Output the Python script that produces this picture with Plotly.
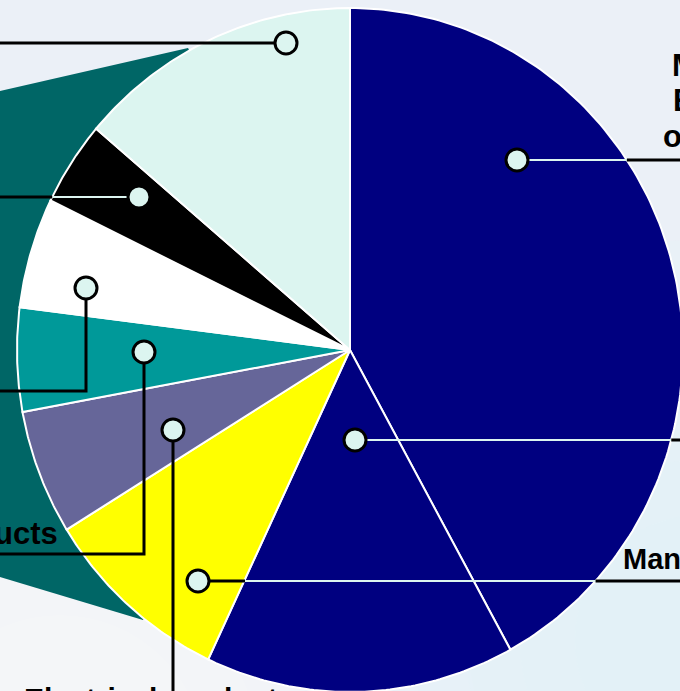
import numpy as np
import plotly.graph_objects as go

# ---------------- data ----------------
categories = ["Mining, Energy & oil", "Transport", "Manufacturing", "Electrical products",
              "Wood products", "Construction", "Chemicals", "Other"]
shares = [42.0, 15.0, 9.2, 5.9, 4.9, 5.2, 4.0, 13.8]
slice_colors = ["#000080", "#000080", "#ffff00", "#666699", "#009999", "#ffffff", "#000000", "#dcf5f0"]

# ---------------- geometry / style ----------------
W, H = 680, 691
CX, CY, RX, RY = 350, 350, 333, 342
LIGHT = "#dcf5f0"
FONT = "Liberation Sans Narrow, Arial Narrow, Liberation Sans, Arial, sans-serif"


def edge_x(y, side):
    return CX + side * RX * np.sqrt(max(0.0, 1 - ((y - CY) / RY) ** 2))


fig = go.Figure()

# dark teal connector wedge behind the pie
fig.add_trace(go.Scatter(x=[0, 188, CX, 143, 0], y=[91, 48, CY, 620, 577], fill="toself",
                         fillcolor="#006666", mode="lines", line=dict(width=0), hoverinfo="skip"))

# pie slices
total = sum(shares)
acc = 0.0
for cat, v, col in zip(categories, shares, slice_colors):
    a0 = acc / total * 2 * np.pi
    a1 = (acc + v) / total * 2 * np.pi
    t = np.linspace(a0, a1, 30 + int(300 * v / total))
    xs = [CX] + list(CX + RX * np.sin(t)) + [CX]
    ys = [CY] + list(CY - RY * np.cos(t)) + [CY]
    fig.add_trace(go.Scatter(x=xs, y=ys, fill="toself", fillcolor=col, mode="lines",
                             line=dict(color="white", width=2), name=cat,
                             hovertemplate=f"{cat}: {v}%<extra></extra>"))
    acc += v

# callout marker positions (label anchors)
anchors = [(517, 160), (355, 440), (198, 581), (173, 430), (144, 352), (86, 288), (139, 197), (286, 43)]

# leader line segments: (points, colour)
segments = [
    ([(517, 160), (edge_x(160, 1), 160)], LIGHT),
    ([(edge_x(160, 1), 160), (W, 160)], "black"),
    ([(355, 440), (edge_x(440, 1), 440)], LIGHT),
    ([(edge_x(440, 1), 440), (W, 440)], "black"),
    ([(198, 581), (245, 581)], "black"),
    ([(245, 581), (edge_x(581, 1), 581)], LIGHT),
    ([(edge_x(581, 1), 581), (W, 581)], "black"),
    ([(173, 430), (173, H)], "black"),
    ([(144, 352), (144, 554), (0, 554)], "black"),
    ([(86, 288), (86, 391), (0, 391)], "black"),
    ([(139, 197), (edge_x(197, -1), 197)], LIGHT),
    ([(edge_x(197, -1), 197), (0, 197)], "black"),
    ([(286, 43), (0, 43)], "black"),
]
for pts, col in segments:
    fig.add_trace(go.Scatter(x=[p[0] for p in pts], y=[p[1] for p in pts], mode="lines",
                             line=dict(color=col, width=3 if col == "black" else 2.2),
                             hoverinfo="skip"))

fig.add_trace(go.Scatter(x=[a[0] for a in anchors], y=[a[1] for a in anchors], mode="markers",
                         marker=dict(size=22, color=LIGHT, line=dict(color="black", width=3)),
                         hoverinfo="skip"))

# labels (mostly cut off by the frame), positions in pixels
labels = [
    ("Mining,", 670, 65, "left", 31),
    ("Energy", 671, 100, "left", 31),
    ("or oil", 661, 136, "left", 31),
    ("Manufacturing", 621, 559, "left", 29),
    ("Wood products", 60, 533, "right", 31),
    ("Electrical products", 22, 698, "left", 30),
]
for txt, x, y, anchor, size in labels:
    fig.add_annotation(x=x / W, y=1 - y / H, text=f"<b>{txt}</b>", showarrow=False, xanchor=anchor,
                       yanchor="middle", xref="paper", yref="paper",
                       font=dict(family=FONT, size=size, color="black"))

# soft sky background (layered translucent blobs)
for k in range(6):
    r = 420 - 55 * k
    fig.add_shape(type="circle", xref="x", yref="y", x0=60 - r, x1=60 + r, y0=760 - r, y1=760 + r,
                  layer="below", fillcolor="rgba(255,255,255,0.12)", line=dict(width=0))
    r2 = 400 - 55 * k
    fig.add_shape(type="circle", xref="x", yref="y", x0=700 - r2, x1=700 + r2, y0=640 - r2,
                  y1=640 + r2, layer="below", fillcolor="rgba(222,250,250,0.13)", line=dict(width=0))

fig.update_layout(
    width=W, height=H, margin=dict(l=0, r=0, t=0, b=0),
    paper_bgcolor="#ebf0f7", plot_bgcolor="#ebf0f7", showlegend=False,
    xaxis=dict(range=[0, W], visible=False, fixedrange=True),
    yaxis=dict(range=[H, 0], visible=False, fixedrange=True),
)

fig.write_html("out.html", config={"displayModeBar": False},
               post_script="document.body.style.margin='0';document.body.style.padding='0';"
                           "document.body.style.overflow='hidden';")
